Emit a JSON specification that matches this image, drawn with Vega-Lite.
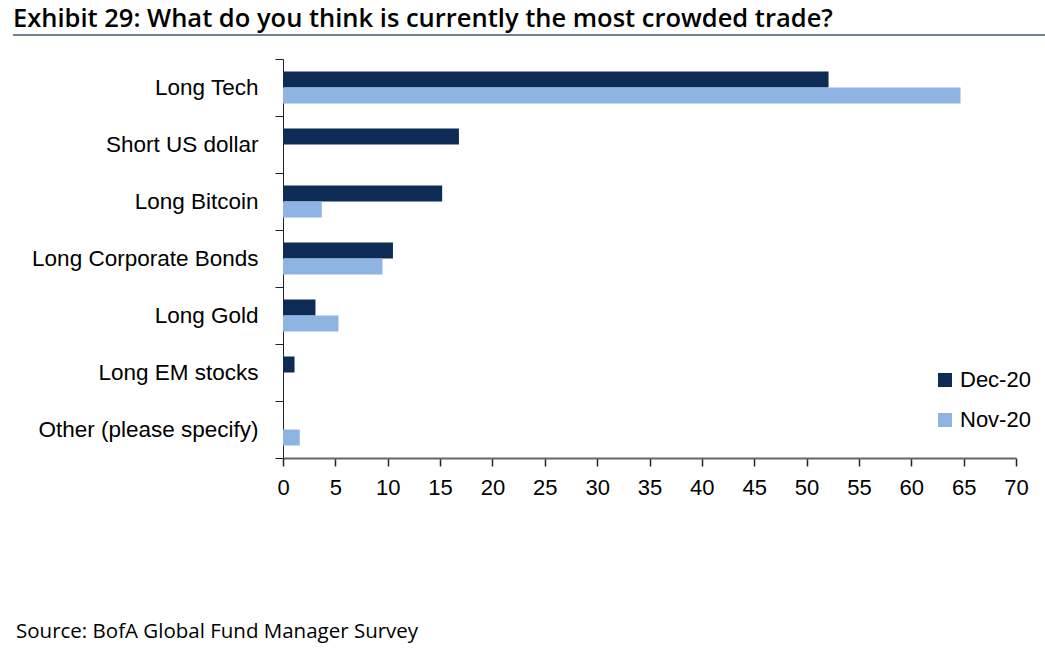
{
  "$schema": "https://vega.github.io/schema/vega-lite/v6.json",
  "background": "white",
  "padding": {"left": 12, "top": 6, "right": 0, "bottom": 0},
  "bounds": "flush",
  "spacing": 23,
  "config": {"view": {"stroke": null}, "font": "Liberation Sans"},
  "vconcat": [
    {
      "width": 733,
      "height": 2,
      "data": {"values": [{}]},
      "title": {
        "text": "Exhibit 29: What do you think is currently the most crowded trade?",
        "anchor": "start",
        "frame": "group",
        "dx": -270,
        "offset": 2,
        "font": "Open Sans",
        "fontSize": 25.5,
        "fontWeight": 600,
        "color": "#000000"
      },
      "mark": {"type": "rule", "color": "#6a8199", "strokeWidth": 2},
      "encoding": {
        "x": {"datum": -0.3683, "type": "quantitative", "scale": {"domain": [0, 1], "nice": false, "zero": false}, "axis": null},
        "x2": {"datum": 1.041}
      }
    },
    {
      "width": 733,
      "height": 399,
      "title": {
        "text": "Source: BofA Global Fund Manager Survey",
        "orient": "bottom",
        "anchor": "start",
        "frame": "group",
        "dx": -267,
        "offset": 124,
        "font": "Open Sans",
        "fontSize": 20.5,
        "fontWeight": "normal",
        "color": "#000000"
      },
      "data": {
        "values": [
          {"trade": "Long Tech", "series": "Dec-20", "value": 52.1},
          {"trade": "Long Tech", "series": "Nov-20", "value": 64.7},
          {"trade": "Short US dollar", "series": "Dec-20", "value": 16.8},
          {"trade": "Short US dollar", "series": "Nov-20", "value": 0},
          {"trade": "Long Bitcoin", "series": "Dec-20", "value": 15.2},
          {"trade": "Long Bitcoin", "series": "Nov-20", "value": 3.7},
          {"trade": "Long Corporate Bonds", "series": "Dec-20", "value": 10.5},
          {"trade": "Long Corporate Bonds", "series": "Nov-20", "value": 9.5},
          {"trade": "Long Gold", "series": "Dec-20", "value": 3.1},
          {"trade": "Long Gold", "series": "Nov-20", "value": 5.3},
          {"trade": "Long EM stocks", "series": "Dec-20", "value": 1.1},
          {"trade": "Long EM stocks", "series": "Nov-20", "value": 0},
          {"trade": "Other (please specify)", "series": "Dec-20", "value": 0},
          {"trade": "Other (please specify)", "series": "Nov-20", "value": 1.6}
        ]
      },
      "mark": {"type": "bar"},
      "encoding": {
        "y": {
          "field": "trade",
          "type": "nominal",
          "sort": ["Long Tech", "Short US dollar", "Long Bitcoin", "Long Corporate Bonds", "Long Gold", "Long EM stocks", "Other (please specify)"],
          "scale": {"paddingInner": 0, "paddingOuter": 0},
          "axis": {
            "title": null,
            "tickBand": "extent",
            "tickSize": 8,
            "tickColor": "#222222",
            "domainColor": "#222222",
            "labelFontSize": 22.5,
            "labelColor": "#000000",
            "labelPadding": 17,
            "labelLimit": 400
          }
        },
        "yOffset": {
          "field": "series",
          "sort": ["Dec-20", "Nov-20"],
          "scale": {"paddingInner": 0, "paddingOuter": 0.78}
        },
        "x": {
          "field": "value",
          "type": "quantitative",
          "scale": {"domain": [0, 70], "nice": false},
          "axis": {
            "title": null,
            "values": [0, 5, 10, 15, 20, 25, 30, 35, 40, 45, 50, 55, 60, 65, 70],
            "grid": false,
            "labelFlush": false,
            "tickSize": 8,
            "tickColor": "#222222",
            "tickWidth": 1.5,
            "domainColor": "#666666",
            "domainWidth": 2,
            "labelFontSize": 22,
            "labelColor": "#000000",
            "labelPadding": 11
          }
        },
        "color": {
          "field": "series",
          "type": "nominal",
          "sort": ["Dec-20", "Nov-20"],
          "scale": {"range": ["#0d2b55", "#8db4e2"]},
          "legend": {
            "title": null,
            "orient": "none",
            "legendX": 651,
            "legendY": 335,
            "symbolType": "square",
            "symbolSize": 196,
            "symbolStrokeWidth": 0,
            "labelFontSize": 22,
            "labelColor": "#000000",
            "labelOffset": 4,
            "rowPadding": 18
          }
        }
      }
    }
  ]
}
